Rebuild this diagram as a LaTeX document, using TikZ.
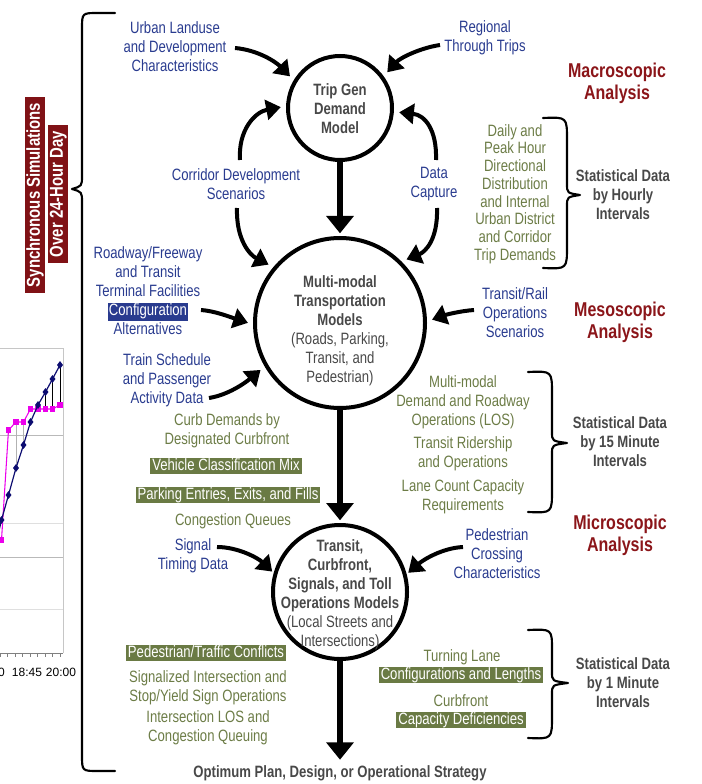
\documentclass[tikz,border=0pt]{standalone}
\usepackage{fontspec}
\setmainfont{Liberation Sans}[FakeStretch=0.8]
\newfontfamily\chartfont{Liberation Sans}
\usetikzlibrary{arrows.meta,plotmarks}

\definecolor{tblue}{RGB}{41,59,143}
\definecolor{tgreen}{RGB}{108,124,70}
\definecolor{hlgreen}{RGB}{106,122,68}
\definecolor{tred}{RGB}{139,21,25}
\definecolor{boxred}{RGB}{128,18,22}
\definecolor{tgray}{RGB}{72,72,72}
\definecolor{cmag}{RGB}{235,0,235}
\definecolor{cnavy}{RGB}{12,12,112}

\newcommand\regfont{\fontsize{12.3}{14.2}\selectfont}
\newcommand\hlblue[1]{{\setlength{\fboxsep}{1pt}\colorbox{tblue}{\textcolor{white}{#1}}}}

\tikzset{
  txt/.style={align=center, inner sep=0pt, font=\regfont},
  bluetxt/.style={txt, text=tblue},
  greentxt/.style={txt, text=tgreen},
  graytxt/.style={txt, text=tgray, font=\regfont\bfseries},
  redtxt/.style={txt, text=tred, font=\fontsize{15}{16.5}\selectfont\bfseries},
  hlbox/.style={fill=hlgreen, text=white, font=\regfont, inner xsep=1.5pt,
    inner ysep=0pt, text height=9.2pt, text depth=2.4pt},
  vbanner/.style={rotate=90, fill=boxred, text=white,
    font=\fontsize{14}{14}\selectfont\bfseries, inner xsep=4.5pt,
    inner ysep=0.8pt, text height=10.4pt, text depth=3pt},
  ring/.style={circle, draw, line width=3pt, inner sep=0pt},
  flow/.style={line width=4.5pt, -{Triangle[width=20pt,length=13pt]}},
  curvy/.style={line width=3pt, -{Triangle[width=15pt,length=11pt]}, shorten >=4pt},
  brace/.style={line width=1.6pt, line cap=round, line join=round},
}

\begin{document}
\begin{tikzpicture}[x=0.75pt, y=-0.75pt]
\useasboundingbox (0,0) rectangle (702,784);

% ---------- chart fragment at the left edge ----------
\begin{scope}
  \clip (0,340) rectangle (80,690);
  \draw[gray!45, line width=0.6pt] (-5,348) -- (63,348) -- (63,653);
  \draw[gray!55, line width=0.6pt] (-5,435) -- (63,435);
  \draw[gray!25, line width=0.6pt] (-5,523) -- (63,523);
  \draw[gray!55, line width=0.6pt] (-5,557) -- (63,557);
  \draw[gray!25, line width=0.6pt] (-5,609) -- (63,609);
  \draw[gray, line width=0.6pt] (-5,653) -- (63,653);
  \foreach \tx in {0,7.5,...,60} \draw[gray, line width=0.5pt] (\tx,653) -- (\tx,657);
  % drop lines between the two series
  \draw[gray!60, line width=0.6pt] (16,422) -- (16,468) (23.5,422) -- (23.5,445);
  \draw[black, line width=0.6pt] (45.5,392) -- (45.5,409) (52.5,379) -- (52.5,409) (60,365) -- (60,405);
  \draw[cmag, line width=0.8pt] plot[mark=square*, mark size=1.7pt]
    coordinates {(-8,546) (1.5,540) (8.5,430) (16,422) (23.5,422) (30.5,409) (38,409) (45.5,409) (52.5,409) (60,405)};
  \draw[cnavy, line width=0.9pt] plot[mark=diamond*, mark size=2.2pt]
    coordinates {(-7,556) (1.5,520) (8.5,495) (16,468) (23.5,445) (30.5,422) (38,405) (45.5,392) (52.5,379) (60,365)};
\end{scope}
\node[font=\chartfont\fontsize{9}{9}\selectfont, anchor=east, inner sep=0pt] (tk0) at (5,672) {0};
\node[font=\chartfont\fontsize{9}{9}\selectfont, inner sep=0pt] (tk1) at (27,672) {18:45};
\node[font=\chartfont\fontsize{9}{9}\selectfont, inner sep=0pt] (tk2) at (61,672) {20:00};

% ---------- vertical banner and the long brace ----------
\node[vbanner] (sync1) at (35,195) {Synchronous Simulations};
\node[vbanner] (sync2) at (58,194) {Over 24-Hour Day};
\draw[brace] (115,13) -- (98,13) .. controls (82,13) .. (82,29) -- (82,176)
  .. controls (82,186) .. (72,189) .. controls (82,192) .. (82,202)
  -- (82,755) .. controls (82,771) .. (98,771) -- (115,771);

% ---------- model circles ----------
\node[ring, minimum size=78pt] (trip) at (340,108) {};
\node[ring, minimum size=127.5pt] (mm) at (340,323) {};
\node[ring, minimum size=100.5pt] (ops) at (340,592) {};

\node[graytxt] (tripT) at (340,109) {Trip Gen\\Demand\\Model};
\node[txt, text=tgray] (mmT) at (340,331) {\textbf{Multi-modal}\\\textbf{Transportation}\\\textbf{Models}\\(Roads, Parking,\\Transit, and\\Pedestrian)};
\node[txt, text=tgray] (opsT) at (340,595) {\textbf{Transit,}\\\textbf{Curbfront,}\\\textbf{Signals, and Toll}\\\textbf{Operations Models}\\(Local Streets and\\Intersections)};

% ---------- input labels ----------
\node[bluetxt] (urban) at (175,47) {Urban Landuse\\and Development\\Characteristics};
\node[bluetxt] (regional) at (485,38) {Regional\\Through Trips};
\node[bluetxt] (corridor) at (236,184) {Corridor Development\\Scenarios};
\node[bluetxt] (datacap) at (434,184) {Data\\Capture};
\node[bluetxt] (roadway) at (148,291) {Roadway/Freeway\\and Transit\\Terminal Facilities\\\hlblue{Configuration}\\Alternatives};
\node[bluetxt] (train) at (167,380) {Train Schedule\\and Passenger\\Activity Data};
\node[bluetxt] (railops) at (515,313) {Transit/Rail\\Operations\\Scenarios};
\node[bluetxt] (signal) at (193,556) {Signal\\Timing Data};
\node[bluetxt] (pedcross) at (497,554) {Pedestrian\\Crossing\\Characteristics};

% ---------- outputs ----------
\node[greentxt, font=\fontsize{12.3}{13.3}\selectfont] (daily) at (515,194) {Daily and\\Peak Hour\\Directional\\Distribution\\and Internal\\Urban District\\and Corridor\\Trip Demands};
\node[greentxt] (curbdem) at (227,431) {Curb Demands by\\Designated Curbfront};
\node[hlbox] (vehmix) at (226,466) {Vehicle Classification Mix};
\node[hlbox] (parking) at (228,495) {Parking Entries, Exits, and Fills};
\node[greentxt] (congq) at (233,521) {Congestion Queues};
\node[greentxt] (mmdemand) at (463,402) {Multi-modal\\Demand and Roadway\\Operations (LOS)};
\node[greentxt] (ridership) at (463,454) {Transit Ridership\\and Operations};
\node[greentxt] (lanecount) at (463,497) {Lane Count Capacity\\Requirements};
\node[hlbox] (pedconf) at (206,653) {Pedestrian/Traffic Conflicts};
\node[greentxt] (sigint) at (208,688) {Signalized Intersection and\\Stop/Yield Sign Operations};
\node[greentxt] (intlos) at (208,728) {Intersection LOS and\\Congestion Queuing};
\node[greentxt] (turning) at (462,657) {Turning Lane};
\node[hlbox] (cfglen) at (461,675) {Configurations and Lengths};
\node[greentxt] (curbfront) at (461,701) {Curbfront};
\node[hlbox] (capdef) at (461,720) {Capacity Deficiencies};

% ---------- analysis levels and data intervals ----------
\node[redtxt] (macro) at (617,83) {Macroscopic\\Analysis};
\node[redtxt] (meso) at (620,322) {Mesoscopic\\Analysis};
\node[redtxt] (micro) at (620,535) {Microscopic\\Analysis};
\node[graytxt] (hourly) at (623,195) {Statistical Data\\by Hourly\\Intervals};
\node[graytxt] (min15) at (620,442) {Statistical Data\\by 15 Minute\\Intervals};
\node[graytxt] (min1) at (623,683) {Statistical Data\\by 1 Minute\\Intervals};
\node[graytxt] (optimum) at (340,773) {Optimum Plan, Design, or Operational Strategy};

% ---------- interval braces ----------
\draw[brace] (543,118) .. controls (567,117) .. (567,140) -- (567,184)
  .. controls (567,193) .. (580,195) .. controls (567,197) .. (567,206)
  -- (567,246) .. controls (567,269) .. (543,268);
\draw[brace] (528,372) .. controls (552,371) .. (552,394) -- (552,432)
  .. controls (552,441) .. (567,443) .. controls (552,445) .. (552,454)
  -- (552,490) .. controls (552,513) .. (528,512);
\draw[brace] (528,630) .. controls (552,629) .. (552,650) -- (552,672)
  .. controls (552,681) .. (568,683) .. controls (552,685) .. (552,694)
  -- (552,716) .. controls (552,739) .. (528,738);

% ---------- main flow ----------
\draw[flow, shorten >=2pt] (trip.south) -- (mm.north);
\draw[flow, shorten >=2pt] (mm.south) -- (ops.north);
\draw[flow, shorten >=4pt] (ops.south) -- (optimum.north);

% ---------- feeding arrows ----------
\coordinate (urbanS) at (235,48);
\coordinate (regionalS) at (440,45);
\coordinate (corrUp) at (240,160);
\coordinate (corrDn) at (237,208);
\coordinate (dataUp) at (436,160);
\coordinate (dataDn) at (437,208);
\coordinate (confS) at (201,310);
\coordinate (trainS) at (209,398);
\coordinate (railS) at (474,310);
\coordinate (signalS) at (217,547);
\coordinate (pedS) at (463,547);

\draw[curvy] (urbanS) .. controls (258,50) and (276,62) .. (trip.149);
\draw[curvy] (regionalS) .. controls (420,48) and (400,58) .. (trip.36);
\draw[curvy] (corrUp) .. controls (238,130) and (255,112) .. (trip.178);
\draw[curvy] (dataUp) .. controls (437,130) and (425,115) .. (trip.356);
\draw[curvy] (corrDn) .. controls (236,240) and (250,255) .. (mm.140);
\draw[curvy] (dataDn) .. controls (438,240) and (425,252) .. (mm.45);
\draw[curvy] (confS) .. controls (215,311) and (230,317) .. (mm.181);
\draw[curvy] (trainS) .. controls (228,395) and (245,383) .. (mm.210);
\draw[curvy] (railS) .. controls (460,311) and (445,315) .. (mm.1);
\draw[curvy, shorten >=1.5pt] (signalS) .. controls (238,547) and (258,558) .. (ops.164);
\draw[curvy, shorten >=1.5pt] (pedS) .. controls (442,548) and (423,560) .. (ops.15);
\end{tikzpicture}
\end{document}
